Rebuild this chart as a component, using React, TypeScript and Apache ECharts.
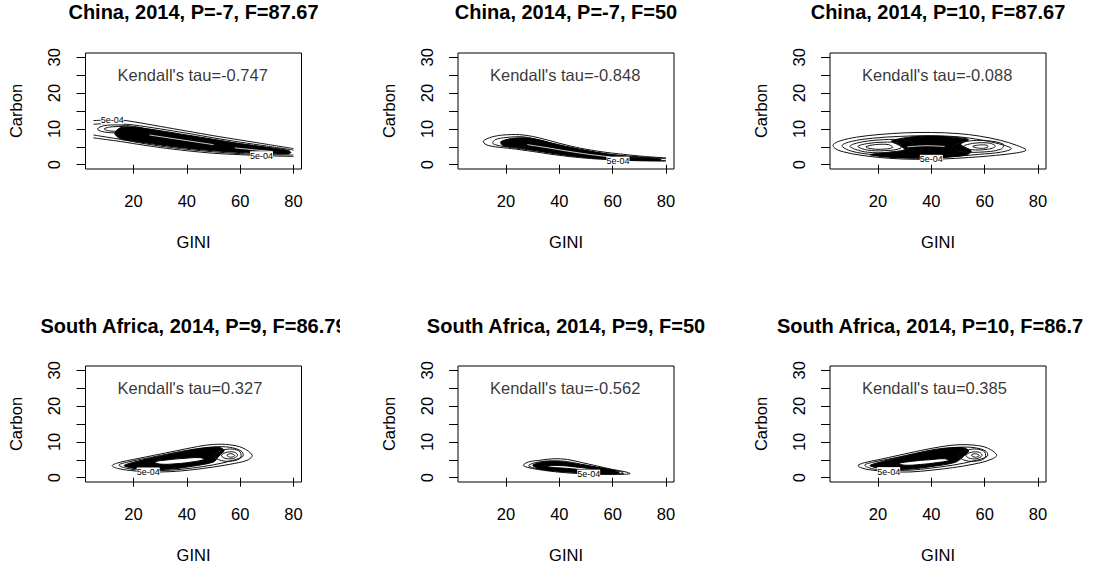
import React, { useEffect, useRef } from 'react';
import * as echarts from 'echarts';

type Pt = [number, number];

// ---------- texts & axes ----------
const TITLES = [
  'China, 2014, P=-7, F=87.67',
  'China, 2014, P=-7, F=50',
  'China, 2014, P=10, F=87.67',
  'South Africa, 2014, P=9, F=86.79',
  'South Africa, 2014, P=9, F=50',
  'South Africa, 2014, P=10, F=86.7',
];
const TAUS = [-0.747, -0.848, -0.088, 0.327, -0.562, 0.385];
const X_NAME = 'GINI';
const Y_NAME = 'Carbon';
const X_TICKS = [20, 40, 60, 80];
const Y_TICKS = [0, 5, 10, 15, 20, 25, 30];
const Y_LABELS = [0, 10, 20, 30];
const X_RANGE: Pt = [2, 83];
const Y_RANGE: Pt = [-1.2, 31.2];
const TAU_POS: Pt = [14, 25];

// ---------- contour outlines (GINI, Carbon) ----------
// Panel 1: China, P=-7, F=87.67
const P1_LINES: Pt[][] = [
  [[5, 12.3], [10, 12.5], [15, 12.5], [20, 12.0], [30, 10.7], [40, 9.4], [50, 8.1], [60, 6.9], [70, 5.7], [80, 4.5]],
  [[5, 11.3], [10, 11.5], [15, 11.4], [20, 11.1], [30, 10.0], [40, 8.8], [50, 7.5], [60, 6.3], [70, 5.2], [80, 4.1]],
  [[5, 8.3], [10, 7.7], [15, 7.1], [20, 6.4], [30, 5.2], [40, 4.3], [50, 3.6], [60, 3.1], [70, 2.8], [80, 2.7]],
  [[5, 7.5], [10, 7.0], [15, 6.5], [20, 5.9], [30, 4.8], [40, 3.9], [50, 3.2], [60, 2.8], [70, 2.5], [80, 2.3]],
];
const P1_RINGS: Pt[][] = [
  [[6.5, 10.0], [9, 10.9], [14, 11.1], [20, 10.7], [24, 10.0], [20, 9.2], [13, 8.9], [8, 9.3]],
  [[9, 10.0], [12, 10.6], [17, 10.6], [20, 10.1], [17, 9.5], [11.5, 9.4]],
];
const P1_CORE: Pt[] = [[15, 10.3], [20, 10.5], [30, 9.5], [40, 8.3], [50, 7.1], [60, 5.9], [70, 4.9], [78, 4.0], [79, 3.4], [78, 3.0], [70, 3.1], [60, 3.4], [50, 3.9], [40, 4.6], [30, 5.5], [20, 6.6], [15, 7.3], [13, 8.7]];
const P1_HOLES: Pt[][] = [];
const P1_GAPS: Pt[][] = [
  [[26, 8.3], [34, 7.4], [42, 6.5], [50, 5.6]],
  [[58, 4.7], [66, 4.1], [72, 3.7]],
];
const P1_LABELS: Pt[] = [[12, 12.6], [68, 2.5]];

// Panel 2: China, P=-7, F=50
const P2_LINES: Pt[][] = [
  [[80, 1.9], [72, 2.3], [64, 2.9], [56, 3.6], [48, 4.6], [41, 5.8], [35, 7.0], [30, 7.9], [25, 8.4], [19, 8.3], [14.5, 7.7], [11.5, 6.6], [12.5, 5.6], [16, 5.0], [22, 4.5], [30, 3.7], [38, 2.8], [46, 2.1], [54, 1.6], [62, 1.3], [70, 1.1], [80, 1.0]],
  [[80, 1.7], [70, 2.2], [60, 2.8], [50, 3.8], [42, 4.9], [36, 6.2], [31, 7.2], [26, 7.8], [20, 7.6], [16, 7.0], [15, 6.0], [17.5, 5.3], [22, 4.8], [30, 4.0], [40, 3.0], [50, 2.1], [60, 1.5], [70, 1.2], [80, 1.15]],
];
const P2_RINGS: Pt[][] = [];
const P2_CORE: Pt[] = [[18, 6.4], [22, 7.3], [27, 7.5], [32, 7.0], [38, 5.9], [46, 4.6], [54, 3.5], [62, 2.6], [70, 2.0], [78, 1.6], [78, 1.2], [70, 1.25], [62, 1.4], [54, 1.8], [46, 2.3], [38, 3.1], [30, 4.1], [24, 4.8], [19, 5.3]];
const P2_HOLES: Pt[][] = [];
const P2_GAPS: Pt[][] = [[[28, 5.6], [35, 4.8], [43, 3.8], [51, 2.9], [59, 2.2]]];
const P2_LABELS: Pt[] = [[62, 1.0]];

// Panel 3: China, P=10, F=87.67
const P3_LINES: Pt[][] = [];
const P3_RINGS: Pt[][] = [
  [[3.2, 5.6], [6, 6.7], [12, 7.7], [20, 8.4], [30, 8.9], [40, 9.0], [50, 8.7], [58, 8.0], [66, 6.8], [72, 5.4], [75.5, 4.1], [72, 3.3], [64, 2.6], [54, 2.0], [44, 1.6], [34, 1.5], [24, 1.8], [14, 2.6], [7, 3.6], [3.8, 4.6]],
  [[6.5, 5.3], [10, 6.5], [18, 7.4], [28, 7.9], [40, 8.1], [50, 7.8], [58, 7.0], [65, 5.9], [70, 4.5], [66, 3.5], [58, 2.9], [48, 2.3], [38, 2.0], [28, 2.1], [18, 2.8], [10, 3.8]],
  [[9.5, 5.2], [13, 6.2], [20, 6.9], [28, 7.0], [33, 6.2], [31, 4.3], [24, 3.4], [16, 3.5], [11.5, 4.3]],
  [[12.5, 5.1], [16, 5.9], [22, 6.3], [28, 6.0], [28.5, 4.6], [22, 3.9], [16, 4.1]],
  [[15.5, 5.0], [19, 5.6], [24, 5.6], [25.5, 4.8], [21, 4.3], [17, 4.5]],
  [[48, 5.2], [53, 6.5], [61, 6.7], [67, 5.7], [66, 4.3], [58, 3.5], [50, 3.8]],
  [[52, 5.1], [56, 6.0], [62, 6.0], [64, 5.1], [61, 4.3], [55, 4.2]],
  [[55.5, 5.1], [58, 5.5], [61, 5.4], [61, 4.8], [58, 4.6]],
];
const P3_CORE: Pt[] = [[25, 6.6], [32, 7.7], [40, 8.0], [48, 7.7], [54, 7.0], [51, 5.7], [55, 3.8], [53, 2.7], [44, 2.0], [34, 1.8], [24, 2.1], [17, 2.8], [23, 3.4], [30, 4.2], [28, 5.4]];
const P3_HOLES: Pt[][] = [];
const P3_GAPS: Pt[][] = [[[31, 5.0], [38, 5.3], [45, 5.1]]];
const P3_LABELS: Pt[] = [[40, 1.5]];

// Panel 4: South Africa, P=9, F=86.79
const P4_LINES: Pt[][] = [];
const P4_RINGS: Pt[][] = [
  [[12, 3.4], [15, 4.3], [20, 5.1], [28, 6.3], [36, 7.5], [44, 8.7], [50, 9.3], [56, 9.2], [61, 8.3], [64.5, 6.3], [63, 5.0], [58, 4.0], [50, 3.0], [42, 2.2], [34, 1.7], [26, 1.6], [19, 2.0], [14, 2.6]],
  [[14.5, 3.5], [18, 4.4], [26, 5.6], [34, 6.8], [42, 7.9], [50, 8.6], [56, 8.5], [60.5, 7.4], [61, 6.0], [57, 4.8], [50, 3.6], [42, 2.7], [34, 2.1], [26, 2.0], [19, 2.4]],
  [[50, 6.3], [53, 7.6], [57, 8.0], [60, 7.2], [60, 5.4], [56, 4.6], [52, 5.0]],
  [[53, 6.3], [55, 7.1], [58, 7.1], [59, 6.2], [57, 5.3], [54, 5.5]],
  [[55, 6.3], [56.5, 6.7], [58, 6.2], [56.5, 5.7]],
];
const P4_CORE: Pt[] = [[16.5, 3.4], [22, 4.7], [30, 6.0], [38, 7.2], [46, 8.2], [52, 8.5], [54, 7.6], [52, 6.0], [50, 4.4], [42, 3.2], [34, 2.4], [26, 2.3], [20, 2.6]];
const P4_HOLES: Pt[][] = [[[28, 4.4], [33, 5.0], [39, 5.4], [45, 5.6], [46.5, 5.1], [42, 4.4], [36, 3.9], [30, 3.8]]];
const P4_GAPS: Pt[][] = [];
const P4_LABELS: Pt[] = [[25.5, 1.6]];

// Panel 5: South Africa, P=9, F=50
const P5_LINES: Pt[][] = [];
const P5_RINGS: Pt[][] = [
  [[26.5, 3.5], [28.5, 4.4], [33, 4.9], [38, 5.3], [43, 5.1], [48, 4.3], [54, 3.3], [60, 2.3], [65, 1.6], [66.5, 1.1], [60, 0.9], [52, 1.0], [44, 1.3], [38, 1.7], [32, 2.3], [28, 2.9]],
  [[28.5, 3.4], [31, 4.2], [36, 4.7], [42, 4.6], [48, 3.8], [56, 2.7], [63, 1.7], [64, 1.2], [58, 1.1], [50, 1.3], [42, 1.7], [35, 2.2], [30, 2.8]],
];
const P5_CORE: Pt[] = [[30, 3.5], [34, 4.4], [40, 4.5], [46, 3.9], [54, 2.9], [61, 1.9], [62.5, 1.3], [56, 1.15], [48, 1.4], [40, 1.8], [33, 2.4]];
const P5_HOLES: Pt[][] = [[[35, 3.2], [40, 3.4], [46, 3.0], [52, 2.4], [50, 2.2], [43, 2.6], [37, 2.9]]];
const P5_GAPS: Pt[][] = [];
const P5_LABELS: Pt[] = [[51, 1.0]];

// Panel 6: South Africa, P=10, F=86.7
const P6_LINES: Pt[][] = [];
const P6_RINGS: Pt[][] = [
  [[12.5, 3.4], [15, 4.2], [20, 5.0], [28, 6.3], [36, 7.6], [44, 8.7], [50, 9.2], [56, 9.1], [61, 8.3], [64.5, 6.3], [62, 5.0], [56, 3.8], [48, 2.8], [40, 2.1], [32, 1.6], [24, 1.7], [17, 2.2], [14, 2.7]],
  [[15, 3.5], [18, 4.3], [26, 5.5], [34, 6.8], [42, 8.0], [50, 8.5], [56, 8.4], [60.5, 7.4], [61, 6.0], [56, 4.7], [48, 3.5], [40, 2.7], [32, 2.1], [24, 2.1], [18, 2.5]],
  [[50, 6.3], [53, 7.6], [57, 8.0], [60, 7.2], [60, 5.4], [56, 4.6], [52, 5.0]],
  [[53, 6.3], [55, 7.1], [58, 7.1], [59, 6.2], [57, 5.3], [54, 5.5]],
  [[55, 6.3], [56.5, 6.7], [58, 6.2], [56.5, 5.7]],
];
const P6_CORE: Pt[] = [[17, 3.4], [22, 4.6], [30, 6.0], [38, 7.3], [46, 8.2], [52, 8.4], [54, 7.5], [52, 5.9], [49, 4.3], [40, 3.1], [32, 2.4], [24, 2.3], [20, 2.7]];
const P6_HOLES: Pt[][] = [[[28, 4.0], [33, 4.6], [39, 5.0], [45, 5.3], [46.5, 4.8], [42, 4.2], [36, 3.7], [30, 3.5]]];
const P6_GAPS: Pt[][] = [];
const P6_LABELS: Pt[] = [[24, 1.7]];

const CONTOUR_LABEL = '5e-04';

// ---------- layout ----------
const FONT = '"Liberation Sans", Arial, Helvetica, sans-serif';
const GRID_LEFTS = [85.5, 458, 830];
const GRID_TOPS = [53, 366];
const GRID_W = 216;
const GRID_H = 116;
const TEXT_COLOR = '#000';

type El = { k: string; pts: Pt[] };

const PANELS = [
  [P1_LINES, P1_RINGS, P1_CORE, P1_HOLES, P1_GAPS, P1_LABELS],
  [P2_LINES, P2_RINGS, P2_CORE, P2_HOLES, P2_GAPS, P2_LABELS],
  [P3_LINES, P3_RINGS, P3_CORE, P3_HOLES, P3_GAPS, P3_LABELS],
  [P4_LINES, P4_RINGS, P4_CORE, P4_HOLES, P4_GAPS, P4_LABELS],
  [P5_LINES, P5_RINGS, P5_CORE, P5_HOLES, P5_GAPS, P5_LABELS],
  [P6_LINES, P6_RINGS, P6_CORE, P6_HOLES, P6_GAPS, P6_LABELS],
] as [Pt[][], Pt[][], Pt[], Pt[][], Pt[][], Pt[]][];

function buildElements(p: [Pt[][], Pt[][], Pt[], Pt[][], Pt[][], Pt[]]): El[] {
  const [lines, rings, core, holes, gaps, labels] = p;
  const els: El[] = [];
  lines.forEach((l) => els.push({ k: 'line', pts: l }));
  rings.slice(0, 2).forEach((r) => els.push({ k: 'ring', pts: r }));
  els.push({ k: 'core', pts: core });
  rings.slice(2).forEach((r) => els.push({ k: 'ring', pts: r }));
  holes.forEach((h) => els.push({ k: 'hole', pts: h }));
  gaps.forEach((g) => els.push({ k: 'gap', pts: g }));
  labels.forEach((l) => els.push({ k: 'label', pts: [l] }));
  return els;
}

function makeRender(els: El[]) {
  return (params: any, api: any) => {
    const el = els[params.dataIndex];
    if (el.k === 'label') {
      const [x, y] = api.coord(el.pts[0]);
      return {
        type: 'text',
        x,
        y,
        style: {
          text: CONTOUR_LABEL,
          fontSize: 9,
          fontFamily: FONT,
          fill: '#000',
          align: 'center',
          verticalAlign: 'middle',
          backgroundColor: '#fff',
        },
      };
    }
    const pts = el.pts.map((p) => api.coord(p));
    switch (el.k) {
      case 'line':
        return { type: 'polyline', shape: { points: pts, smooth: 0.3 }, style: { fill: 'none', stroke: '#111', lineWidth: 1 } };
      case 'ring':
        return { type: 'polygon', shape: { points: pts, smooth: 0.35 }, style: { fill: 'none', stroke: '#111', lineWidth: 1 } };
      case 'core':
        return { type: 'polygon', shape: { points: pts, smooth: 0.3 }, style: { fill: '#000', stroke: '#000', lineWidth: 1 } };
      case 'hole':
        return { type: 'polygon', shape: { points: pts, smooth: 0.4 }, style: { fill: '#fff', stroke: '#000', lineWidth: 1 } };
      default:
        return { type: 'polyline', shape: { points: pts, smooth: 0.3 }, style: { fill: 'none', stroke: '#fff', lineWidth: 0.8 } };
    }
  };
}

function buildOption() {
  const grid: any[] = [];
  const xAxis: any[] = [];
  const yAxis: any[] = [];
  const series: any[] = [];
  const graphic: any[] = [];
  const textStyle = { fontSize: 16.5, color: TEXT_COLOR, fontFamily: FONT };

  PANELS.forEach((p, i) => {
    const col = i % 3;
    const row = Math.floor(i / 3);
    const left = GRID_LEFTS[col];
    const top = GRID_TOPS[row];
    grid.push({ left, top, width: GRID_W, height: GRID_H, show: true, borderColor: '#000', borderWidth: 1, backgroundColor: 'transparent' });
    xAxis.push({
      type: 'value', gridIndex: i, min: X_RANGE[0], max: X_RANGE[1],
      splitLine: { show: false },
      axisLine: { show: false },
      axisTick: { show: true, length: 9, lineStyle: { color: '#000' }, customValues: X_TICKS },
      axisLabel: { customValues: X_TICKS, margin: 23, ...textStyle },
      name: X_NAME, nameLocation: 'middle', nameGap: 64, nameTextStyle: textStyle,
    });
    yAxis.push({
      type: 'value', gridIndex: i, min: Y_RANGE[0], max: Y_RANGE[1],
      splitLine: { show: false },
      axisLine: { show: false },
      axisTick: { show: true, length: 9, lineStyle: { color: '#000' }, customValues: Y_TICKS },
      axisLabel: { customValues: Y_LABELS, margin: 23, rotate: 90, ...textStyle },
      name: Y_NAME, nameLocation: 'middle', nameGap: 61, nameTextStyle: textStyle,
    });
    const els = buildElements(p);
    series.push({
      type: 'custom', xAxisIndex: i, yAxisIndex: i, clip: true, silent: true,
      data: els.map((e, j) => [e.pts[0][0], e.pts[0][1], j]),
      encode: { x: 0, y: 1 },
      renderItem: makeRender(els),
    });
    series.push({
      type: 'scatter', xAxisIndex: i, yAxisIndex: i, symbolSize: 0, silent: true,
      data: [TAU_POS],
      label: { show: true, position: 'right', distance: 0, formatter: "Kendall's tau=" + TAUS[i].toFixed(3), ...textStyle },
    });
    const titleY = row === 0 ? 12 : 325.5;
    const cx = left + GRID_W / 2;
    const leftAligned = i === 5;
    graphic.push({
      type: 'text', x: leftAligned ? 777 : cx, y: titleY, z: 10,
      style: { text: TITLES[i], fontSize: 20, fontWeight: 'bold', fontFamily: FONT, fill: '#000', align: leftAligned ? 'left' : 'center', verticalAlign: 'middle' },
    });
  });
  // R clips the first South Africa title at its figure region
  graphic.push({ type: 'rect', x: 340, y: 308, z: 20, shape: { width: 30, height: 36 }, style: { fill: '#fff' } });

  return { animation: false, backgroundColor: '#fff', grid, xAxis, yAxis, series, graphic };
}

export default function App() {
  const ref = useRef<HTMLDivElement>(null);
  useEffect(() => {
    const chart = echarts.init(ref.current as HTMLDivElement, null, { renderer: 'svg' });
    chart.setOption(buildOption() as any);
    return () => chart.dispose();
  }, []);
  return <div ref={ref} style={{ position: 'absolute', left: 0, top: 0, width: 1100, height: 569, background: '#fff' }} />;
}
